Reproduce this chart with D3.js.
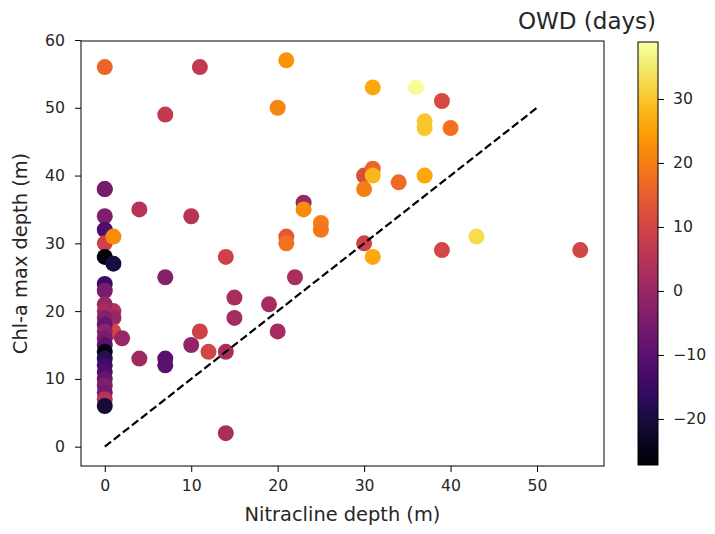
<!DOCTYPE html>
<html>
<head>
<meta charset="utf-8">
<script src="https://cdn.jsdelivr.net/npm/d3@7"></script>
<style>
body{margin:0;background:#fff;}
text{font-family:"DejaVu Sans",sans-serif;fill:#262626;}
</style>
</head>
<body>
<svg id="chart" width="715" height="534"></svg>
<script>
// Nitracline depth (m)
const nitracline = [0,11,21,20,31,36,39,37,37,40,7,
  0,4,10,0,23,23,25,25,30,31,31,30,34,37,43,39,55,30,31,21,21,14,22,15,15,19,20,11,12,14,14,
  0,0,0,0,1,1,7,1,1,1,2,4,7,7,10,
  0,0,0,0,0,0,0,0,0,0,0,0,0,0,0,0,0,0];
// Chl-a max depth (m)
const chlDepth = [56,56,57,50,53,53,51,48,47,47,49,
  38,35,34,34,36,35,33,32,40,41,40,38,39,40,31,29,29,30,28,31,30,28,25,22,19,21,17,17,14,14,2,
  32,30,28,38,31,27,25,20,19,17,16,13,13,12,15,
  24,23,21,20,19,18,17,16,15,14,13,12,11,10,9,8,7,6];
// OWD (days)
const owd = [16,7,23,21,26,38,11,30,30,18,7,
  -5,5,5,-4,0,22,20,19,12,16,28,20,17,26,33,10,10,9,26,14,18,9,3,3,2,2,2,9,10,3,3,
  -12,9,-26,-5,22,-20,-3,4,0,10,0,1,-10,-10,-1,
  -14,-5,0,2,-3,-8,-2,-5,-10,-25,-18,-14,-12,-8,-4,-6,5,-21];
const xTicks = [0,10,20,30,40,50];
const yTicks = [0,10,20,30,40,50,60];
const cTicks = [-20,-10,0,10,20,30];
const lineX = [0,50];

const svg = d3.select("#chart");
const L=81,R=604,T=41,B=466;
const x = d3.scaleLinear().domain([-2.75,57.75]).range([L,R]);
const y = d3.scaleLinear().domain([-2.85,59.85]).range([B,T]);
const cmin=-27.2,cmax=38.9;
const color = v => d3.interpolateInferno((v-cmin)/(cmax-cmin));

const data = nitracline.map((d,i)=>({x:d,y:chlDepth[i],c:owd[i]}));
svg.append("g").selectAll("circle").data(data).join("circle")
  .attr("cx",d=>x(d.x)).attr("cy",d=>y(d.y)).attr("r",8)
  .attr("fill",d=>color(d.c));

svg.append("line")
  .attr("x1",x(lineX[0])).attr("y1",y(lineX[0]))
  .attr("x2",x(lineX[1])).attr("y2",y(lineX[1]))
  .attr("stroke","#000").attr("stroke-width",2.2).attr("stroke-dasharray","8,3.5");

// frame
svg.append("rect").attr("x",L).attr("y",T).attr("width",R-L).attr("height",B-T)
  .attr("fill","none").attr("stroke","#000").attr("stroke-width",1);

const TF = 15.7;
const xa = svg.append("g").attr("transform",`translate(0,${B})`)
  .call(d3.axisBottom(x).tickValues(xTicks).tickSize(6).tickPadding(8));
const ya = svg.append("g").attr("transform",`translate(${L},0)`)
  .call(d3.axisLeft(y).tickValues(yTicks).tickSize(6).tickPadding(10));
[xa,ya].forEach(a=>{
  a.select(".domain").remove();
  a.selectAll("text").attr("font-size",TF).attr("font-family","DejaVu Sans").attr("fill","#262626");
});

svg.append("text").attr("x",(L+R)/2).attr("y",521).attr("text-anchor","middle")
  .attr("font-size",19.4).text("Nitracline depth (m)");
svg.append("text").attr("transform",`translate(27,${(T+B)/2}) rotate(-90)`)
  .attr("text-anchor","middle").attr("font-size",19.4).text("Chl-a max depth (m)");

// colorbar
const cbL=638,cbW=20,cbT=42,cbB=465;
const defs = svg.append("defs");
const grad = defs.append("linearGradient").attr("id","cg").attr("x1",0).attr("y1",1).attr("x2",0).attr("y2",0);
d3.range(0,1.0001,0.05).forEach(t=>grad.append("stop").attr("offset",t).attr("stop-color",d3.interpolateInferno(t)));
svg.append("rect").attr("x",cbL).attr("y",cbT).attr("width",cbW).attr("height",cbB-cbT)
  .attr("fill","url(#cg)").attr("stroke","#000").attr("stroke-width",1);
const cs = d3.scaleLinear().domain([cmin,cmax]).range([cbB,cbT]);
const ca = svg.append("g").attr("transform",`translate(${cbL+cbW},0)`)
  .call(d3.axisRight(cs).tickValues(cTicks).tickSize(6).tickPadding(9).tickFormat(d=>d<0?"\u2212"+Math.abs(d):d));
ca.select(".domain").remove();
ca.selectAll("text").attr("font-size",TF).attr("font-family","DejaVu Sans").attr("fill","#262626");

svg.append("text").attr("x",587).attr("y",29).attr("text-anchor","middle")
  .attr("font-size",23).text("OWD (days)");
</script>
</body>
</html>
